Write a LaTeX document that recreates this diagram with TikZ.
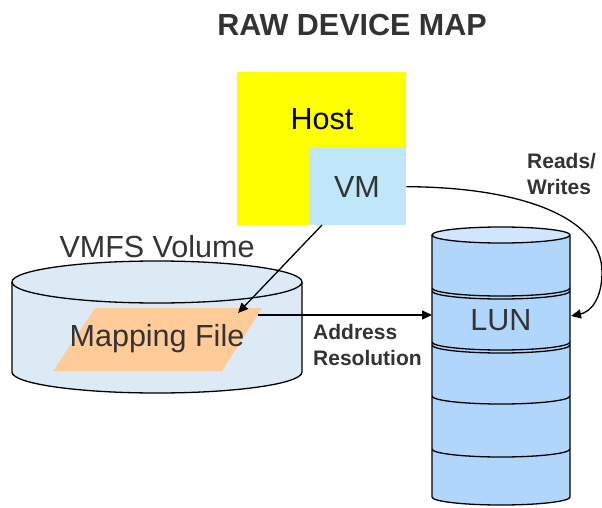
\documentclass[tikz,border=0pt]{standalone}
\usepackage{fontspec}
\setmainfont{Liberation Sans}
\usetikzlibrary{arrows.meta}
\definecolor{hostyellow}{HTML}{FFFF00}
\definecolor{vmblue}{HTML}{C0E6FA}
\definecolor{vmfsfill}{HTML}{DCEAF6}
\definecolor{mapfill}{HTML}{FFCC99}
\definecolor{lunfill}{HTML}{B0D6FC}
\definecolor{luntop}{HTML}{CFE6FD}
\definecolor{txt}{HTML}{333333}
\begin{document}
\begin{tikzpicture}[x=1pt,y=-1pt,
  big/.style={font=\fontsize{30.5}{35}\selectfont, text=txt, inner sep=0pt},
  lbl/.style={font=\bfseries\fontsize{21}{26}\selectfont, text=txt, align=left, inner sep=0pt},
  conn/.style={draw=black, line width=1.3pt, -{Triangle[length=10pt,width=9pt]}},
  edgeline/.style={line width=1.3pt, draw=black}]
\useasboundingbox (0,0) rectangle (602,508);

% title
\node[font=\bfseries\fontsize{30.5}{34}\selectfont, text=txt, inner sep=0pt] (title) at (352,25) {RAW DEVICE MAP};

% host and VM
\node[fill=hostyellow, minimum width=169pt, minimum height=153pt, anchor=north west, inner sep=0pt] (host) at (237,72) {};
\node[big, text=black] (hosttext) at (322,119) {Host};
\node[fill=vmblue, minimum width=97pt, minimum height=77pt, anchor=north west, inner sep=0pt] (vm) at (309,148) {};
\node[big] (vmtext) at (357,187) {VM};

% VMFS volume cylinder
\path[fill=vmfsfill, edgeline] (12,282) -- (12,372) arc[start angle=180, end angle=360, x radius=145pt, y radius=21pt] -- (302,282);
\draw[edgeline, fill=vmfsfill] (157,282) ellipse [x radius=145pt, y radius=21pt];
\node[big] (vmfs) at (157,247) {VMFS Volume};

% mapping file
\fill[mapfill] (95,308) -- (262,308) -- (222,371) -- (53,371) -- cycle;
\node[big] (map) at (157,339) {Mapping File};
\coordinate (maptop) at (238,313);
\coordinate (mapright) at (258,315);

% LUN cylinder
\path[fill=lunfill, edgeline] (432,235) -- (432,497) arc[start angle=180, end angle=360, x radius=69pt, y radius=8pt] -- (570,235);
\draw[edgeline, fill=luntop] (501,235) ellipse [x radius=69pt, y radius=8pt];
\draw[edgeline] (432,288) arc[start angle=180, end angle=360, x radius=69pt, y radius=8pt];
\draw[edgeline] (432,291) arc[start angle=180, end angle=360, x radius=69pt, y radius=8pt];
\draw[edgeline] (432,342) arc[start angle=180, end angle=360, x radius=69pt, y radius=8pt];
\draw[edgeline] (432,345) arc[start angle=180, end angle=360, x radius=69pt, y radius=8pt];
\draw[edgeline] (432,396) arc[start angle=180, end angle=360, x radius=69pt, y radius=8pt];
\draw[edgeline] (432,449) arc[start angle=180, end angle=360, x radius=69pt, y radius=8pt];
\node[big] (lun) at (501,320) {LUN};
\coordinate (lunleft) at (432,315);
\coordinate (lunright) at (571,316);

% connectors
\coordinate (vmbottom) at (322,225);
\draw[conn] (vmbottom) -- (maptop);
\draw[conn] (mapright) -- (lunleft);
\coordinate (bend) at (602,272);
\draw[conn] (vm.east) .. controls (515,187) and (602,215) .. (bend) .. controls (602,300) and (590,312) .. (lunright);

% labels
\node[lbl, anchor=west] (addr) at (313,345) {Address\\Resolution};
\node[lbl, anchor=west] (rw) at (527,174) {Reads/\\Writes};
\end{tikzpicture}
\end{document}
